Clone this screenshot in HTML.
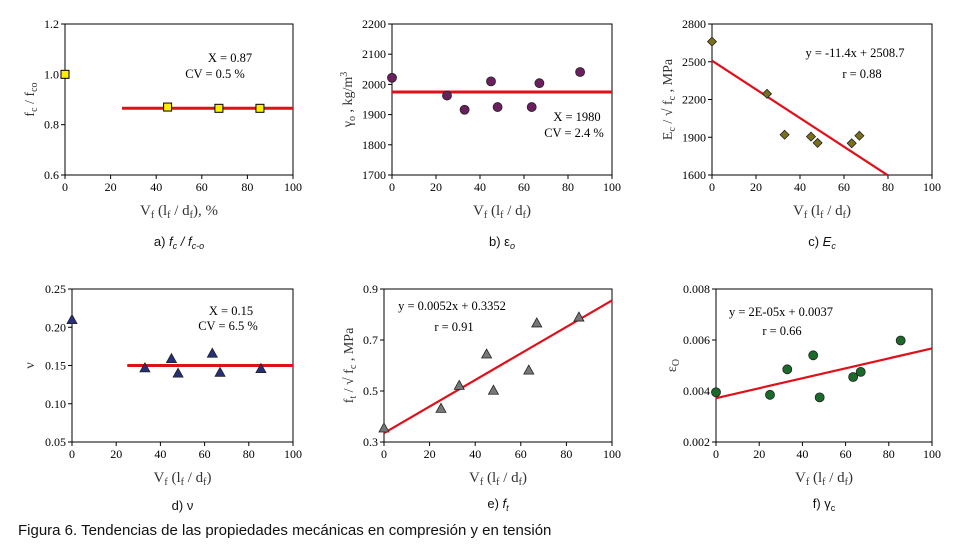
<!DOCTYPE html>
<html><head><meta charset="utf-8"><style>
body{margin:0;background:#fff;width:954px;height:552px;overflow:hidden}
svg{font-family:"Liberation Serif",serif}
.cap{font-family:"Liberation Sans",sans-serif;font-size:13px;fill:#111}
</style></head><body>
<svg id="s" width="954" height="552">
<text x="18" y="535" style="font-family:'Liberation Sans',sans-serif;font-size:15px" fill="#111">Figura 6. Tendencias de las propiedades mecánicas en compresión y en tensión</text>
</svg>
<script>
const xs = [0,25,33,45,48,63.5,67,85.5];
const aX = [0,45,67.5,85.5], aY = [1.0,0.87,0.865,0.865];
const bY = [2022,1963,1916,2010,1925,1925,2004,2041];
const cX = [0,25,33,45,48,63.5,67], cY = [2660,2245,1920,1905,1855,1852,1912];
const dX = [0,33,45,48,63.5,67,85.5], dY = [0.21,0.147,0.159,0.140,0.166,0.141,0.146];
const eY = [0.355,0.432,0.522,0.645,0.503,0.582,0.767,0.790];
const fY = [0.00395,0.00385,0.00485,0.0054,0.00375,0.00455,0.00475,0.00598];
const xTicks = [0,20,40,60,80,100];
const aTicks = ["0.6","0.8","1.0","1.2"], bTicks=["1700","1800","1900","2000","2100","2200"];
const cTicks = ["1600","1900","2200","2500","2800"], dTicks=["0.05","0.10","0.15","0.20","0.25"];
const eTicks = ["0.3","0.5","0.7","0.9"], fTicks=["0.002","0.004","0.006","0.008"];
const NS="http://www.w3.org/2000/svg", S=document.getElementById('s');
function mk(t,a,p){const e=document.createElementNS(NS,t);for(const k in a)e.setAttribute(k,a[k]);(p||S).appendChild(e);return e;}
function panel(o){
  const g=mk('g',{});
  
  
  const ymin=+o.yt[0], ymax=+o.yt[o.yt.length-1];
  const X=v=>o.x0+(v/100)*(o.x1-o.x0), Y=v=>o.y1-(v-ymin)/(ymax-ymin)*(o.y1-o.y0);
  const fr=mk('rect',{x:o.x0,y:o.y0,width:o.x1-o.x0,height:o.y1-o.y0,fill:'none',stroke:'#000','stroke-width':1},g);
  
  
  xTicks.forEach(t=>{mk('line',{x1:X(t),x2:X(t),y1:o.y1,y2:o.y1+4,stroke:'#000'},g);
    const tx=mk('text',{x:X(t),y:o.y1+16,'text-anchor':'middle','font-size':12},g);tx.textContent=t;
    
    });
  o.yt.forEach(t=>{mk('line',{x1:o.x0-4,x2:o.x0,y1:Y(+t),y2:Y(+t),stroke:'#000'},g);
    const tx=mk('text',{x:o.x0-6,y:Y(+t)+4,'text-anchor':'end','font-size':12},g);tx.textContent=t;
    
    });
  // line
  const ln=mk('line',{x1:X(o.l[0]),y1:Y(o.l[1]),x2:X(o.l[2]),y2:Y(o.l[3]),stroke:'#e0101a','stroke-width':o.lw||2.2},g);
  
  
  o.px.forEach((xv,i)=>{const cx=X(xv),cy=Y(o.py[i]);let m;
    if(o.m==='sq')m=mk('rect',{x:cx-4,y:cy-4,width:8,height:8,fill:'#ffee00',stroke:'#000'},g);
    else if(o.m==='ci')m=mk('circle',{cx,cy,r:4.5,fill:o.c,stroke:'#222','stroke-width':0.8},g);
    else if(o.m==='di')m=mk('polygon',{points:`${cx},${cy-4.5} ${cx+4.5},${cy} ${cx},${cy+4.5} ${cx-4.5},${cy}`,fill:'#7a6f1a',stroke:'#222','stroke-width':0.8},g);
    else m=mk('polygon',{points:`${cx},${cy-5} ${cx+5},${cy+4} ${cx-5},${cy+4}`,fill:o.c,stroke:'#222','stroke-width':0.8},g);
    
    });
  o.ann.forEach(a=>{const t=mk('text',{x:a[0],y:a[1],'text-anchor':'middle','font-size':12.5},g);t.textContent=a[2];
    
    });
  const xl=mk('text',{x:(o.x0+o.x1)/2,y:o.y1+40,'text-anchor':'middle','font-size':15,fill:'#333'},g);
  xl.innerHTML=o.xl;
  
  
  const yl=mk('text',{transform:`translate(${o.ylx},${(o.y0+o.y1)/2}) rotate(-90)`,'text-anchor':'middle','font-size':14,fill:'#333'},g);
  yl.innerHTML=o.yl;
  
  
  const cp=mk('text',{x:(o.x0+o.x1)/2,y:o.capy,'text-anchor':'middle',class:'cap'},g);
  cp.innerHTML=o.cap;
  
  
}
const VF='V<tspan font-size="10" dy="3">f</tspan><tspan dy="-3"> (l</tspan><tspan font-size="10" dy="3">f</tspan><tspan dy="-3"> / d</tspan><tspan font-size="10" dy="3">f</tspan><tspan dy="-3">)</tspan>';
panel({name:'chart-a',x0:65,x1:293,y0:24,y1:175,yt:aTicks,px:aX,py:aY,m:'sq',l:[25,0.865,100,0.865],lw:3,
  ann:[[230,62,'X = 0.87'],[215,78,'CV = 0.5 %']],xl:VF+', %',ylx:34,yl:'f<tspan font-size="10" dy="3">c</tspan><tspan dy="-3"> / f</tspan><tspan font-size="10" dy="3">co</tspan>',
  capy:246,cap:'a) <tspan font-style="italic">f<tspan font-size="9" dy="3">c</tspan><tspan dy="-3"> / f</tspan><tspan font-size="9" dy="3">c-o</tspan></tspan>'});
panel({name:'chart-b',x0:392,x1:612,y0:24,y1:175,yt:bTicks,px:xs,py:bY,m:'ci',c:'#6b1f5e',l:[0,1975,100,1975],lw:3,
  ann:[[577,121,'X = 1980'],[574,137,'CV = 2.4 %']],xl:VF,ylx:352,yl:'γ<tspan font-size="10" dy="3">o</tspan><tspan dy="-3"> , kg/m</tspan><tspan font-size="10" dy="-5">3</tspan>',
  capy:246,cap:'b) ε<tspan font-size="9" dy="3" font-style="italic">o</tspan>'});
panel({name:'chart-c',x0:712,x1:932,y0:24,y1:175,yt:cTicks,px:cX,py:cY,m:'di',l:[0,2508.7,80,1596.7],
  ann:[[855,57,'y = -11.4x + 2508.7'],[862,78,'r = 0.88']],xl:VF,ylx:672,yl:'E<tspan font-size="10" dy="3">c</tspan><tspan dy="-3"> / √ f</tspan><tspan font-size="10" dy="3">c</tspan><tspan dy="-3"> , MPa</tspan>',
  capy:246,cap:'c) <tspan font-style="italic">E<tspan font-size="9" dy="3">c</tspan></tspan>'});
panel({name:'chart-d',x0:72,x1:293,y0:289,y1:442,yt:dTicks,px:dX,py:dY,m:'tr',c:'#24307a',l:[25,0.15,100,0.15],lw:3,
  ann:[[231,315,'X = 0.15'],[228,330,'CV = 6.5 %']],xl:VF,ylx:34,yl:'ν',
  capy:510,cap:'d) ν'});
panel({name:'chart-e',x0:384,x1:612,y0:289,y1:442,yt:eTicks,px:xs,py:eY,m:'tr',c:'#777',l:[0,0.3352,100,0.8552],
  ann:[[452,310,'y = 0.0052x + 0.3352'],[454,331,'r = 0.91']],xl:VF,ylx:353,yl:'f<tspan font-size="10" dy="3">t</tspan><tspan dy="-3">  /  √ f</tspan><tspan font-size="10" dy="3">c</tspan><tspan dy="-3"> , MPa</tspan>',
  capy:508,cap:'e) <tspan font-style="italic">f<tspan font-size="9" dy="3">t</tspan></tspan>'});
panel({name:'chart-f',x0:716,x1:932,y0:289,y1:442,yt:fTicks,px:xs,py:fY,m:'ci',c:'#1a6b2a',l:[0,0.00372,100,0.00567],
  ann:[[781,316,'y = 2E-05x + 0.0037'],[782,335,'r = 0.66']],xl:VF,ylx:676,yl:'ε<tspan font-size="10" dy="3">O</tspan>',
  capy:508,cap:'f) γ<tspan font-size="9" dy="3">c</tspan>'});
</script>
</body></html>
